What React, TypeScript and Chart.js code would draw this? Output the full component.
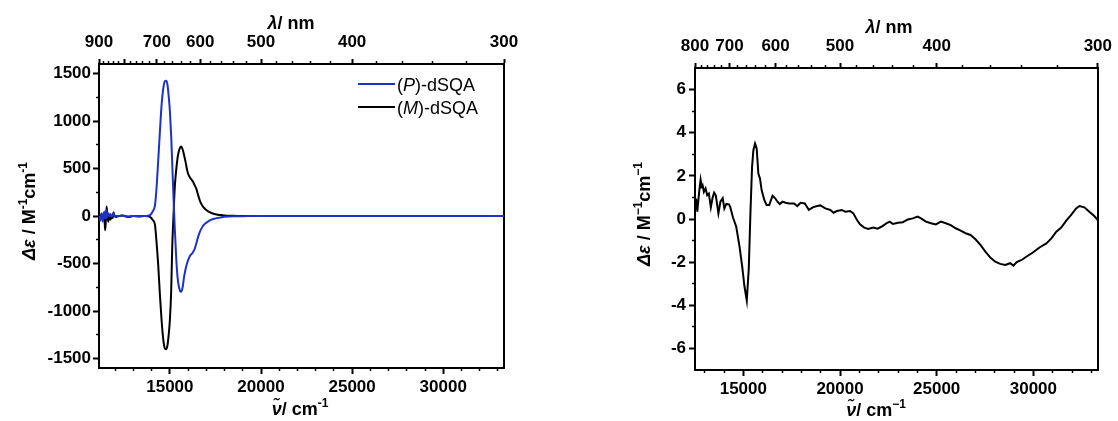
import React, { useEffect, useRef } from "react";
import { Chart, registerables } from "chart.js";

Chart.register(...registerables);

const FONT = "'Liberation Sans', Arial, sans-serif";
const BLUE = "#1c32c8";

// ---------- Left panel: CD spectra of (P)- and (M)-dSQA ----------
const leftWavenumbers = [
  11111, 11180, 11250, 11320, 11380, 11420, 11450, 11490, 11530, 11570,
  11620, 11680, 11740, 11800, 11860, 11910, 11960, 12050, 12200, 12400,
  12700, 13000, 13300, 13600, 13800, 13950, 14050, 14180, 14270, 14360,
  14450, 14550, 14650, 14730, 14800, 14870, 14940, 15000, 15070, 15130,
  15200, 15270, 15350, 15420, 15490, 15560, 15620, 15700, 15780, 15860,
  15940, 16000, 16100, 16220, 16300, 16370, 16450, 16550, 16640, 16730,
  16850, 17000, 17100, 17280, 17450, 17640, 17830, 18000, 18200, 18500,
  19000, 20000, 22000, 25000, 28000, 31000, 33333,
];
const pValues = [
  0, -50, 30, -60, 40, -20, 50, -30, 60, -10,
  30, 0, 20, -5, 10, 30, 5, 0, 0, 5,
  -5, 0, 0, 0, 2, 15, 45, 110, 300, 585,
  880, 1180, 1360, 1420, 1425, 1380, 1250, 1108, 850, 550,
  190, -130, -450, -640, -740, -790, -798, -750, -640, -560,
  -500, -465, -420, -395, -370, -342, -290, -220, -170, -133,
  -95, -70, -58, -38, -28, -20, -12, -8, -5, -3,
  -2, 0, 0, 0, 0, 0, 0,
];
const mValues = [
  0, -40, 20, -30, 30, -60, -150, -40, 100, 0,
  -60, 10, -40, -10, -20, 40, 0, -10, 0, 5,
  -10, 0, -5, 0, -2, -15, -40, -90, -280, -515,
  -820, -1110, -1320, -1395, -1403, -1360, -1240, -1095, -800, -325,
  10, 305, 490, 610, 680, 720, 732, 700, 640, 570,
  490, 445, 405, 375, 350, 320, 288, 220, 165, 125,
  90, 62, 48, 32, 22, 14, 10, 6, 3, 2,
  0, 0, 0, 0, 0, 0, 0,
];
const leftSeriesLabels = ["(P)-dSQA", "(M)-dSQA"];

// ---------- Right panel ----------
const rightWavenumbers = [
  12500, 12560, 12620, 12671, 12720, 12790, 12840, 12893, 12960, 13046,
  13131, 13217, 13319, 13404, 13490, 13575, 13711, 13814, 13933, 14018,
  14121, 14257, 14325, 14462, 14633, 14803, 14940, 15059, 15178, 15281,
  15366, 15451, 15519, 15605, 15690, 15776, 15861, 15946, 16083, 16202,
  16339, 16510, 16646, 16766, 16885, 17022, 17193, 17363, 17619, 17790,
  17961, 18183, 18387, 18592, 18814, 18985, 19241, 19497, 19667, 19838,
  20094, 20265, 20521, 20691, 20862, 21033, 21255, 21460, 21716, 21937,
  22142, 22398, 22569, 22739, 22995, 23251, 23507, 23763, 24019, 24190,
  24446, 24702, 24958, 25214, 25470, 25726, 25982, 26238, 26494, 26750,
  27006, 27262, 27518, 27774, 28030, 28286, 28542, 28798, 28969, 29139,
  29395, 29651, 29993, 30334, 30675, 30931, 31187, 31443, 31699, 31955,
  32211, 32382, 32638, 32894, 33150, 33333,
];
const rightValues = [
  0.96, 0.9, 0.34, 0.85, 1.3, 1.81, 1.5, 1.57, 1.26, 1.42,
  1.1, 1.18, 0.54, 0.96, 1.22, 1.1, 0.26, 0.8, 0.96, 0.49,
  0.7, 0.68, 0.55, 0.08, -0.36, -1.28, -2.2, -3.13, -3.78, -2.3,
  0.26, 2.42, 3.19, 3.5, 3.27, 2.11, 1.88, 1.34, 0.88, 0.65,
  0.65, 1.08, 0.96, 0.8, 0.69, 0.8, 0.75, 0.72, 0.72, 0.6,
  0.75, 0.72, 0.42, 0.54, 0.6, 0.63, 0.49, 0.42, 0.29, 0.37,
  0.42, 0.34, 0.37, 0.26, -0.02, -0.25, -0.4, -0.46, -0.4, -0.45,
  -0.36, -0.2, -0.12, -0.23, -0.17, -0.15, -0.02, 0.03, 0.11, 0.03,
  -0.12, -0.2, -0.25, -0.12, -0.2, -0.28, -0.43, -0.54, -0.66, -0.74,
  -0.94, -1.2, -1.51, -1.79, -1.98, -2.08, -2.13, -2.05, -2.16, -2.0,
  -1.9, -1.74, -1.54, -1.31, -1.13, -0.9, -0.59, -0.4, -0.08, 0.19,
  0.49, 0.6, 0.54, 0.34, 0.14, -0.05,
];

// ---------- Tick specifications ----------
const leftNmMajor = [900, 800, 700, 600, 500, 400, 300];
const leftNmLabels = [900, 700, 600, 500, 400, 300];
const leftNmMinor = [880, 860, 840, 820, 780, 760, 740, 720, 680, 660, 640, 620, 580, 560, 540, 520, 480, 460, 440, 420, 380, 360, 340, 320];
const rightNmMajor = [800, 700, 600, 500, 400, 300];
const rightNmLabels = [800, 700, 600, 500, 400, 300];
const rightNmMinor = [780, 760, 740, 720, 680, 660, 640, 620, 580, 560, 540, 520, 480, 460, 440, 420, 380, 360, 340, 320];
const wavenumberMajor = [15000, 20000, 25000, 30000];
const leftWavenumberMinor = [12000, 13000, 14000, 16000, 17000, 18000, 19000, 21000, 22000, 23000, 24000, 26000, 27000, 28000, 29000, 31000, 32000, 33000];
const rightWavenumberMinor = [13000, 14000, 16000, 17000, 18000, 19000, 21000, 22000, 23000, 24000, 26000, 27000, 28000, 29000, 31000, 32000, 33000];
const leftYMajor = [-1500, -1000, -500, 0, 500, 1000, 1500];
const leftYMinor = [-1250, -750, -250, 250, 750, 1250];
const rightYMajor = [-6, -4, -2, 0, 2, 4, 6];
const rightYMinor = [-5, -3, -1, 1, 3, 5];

type Seg = { t: string; italic?: boolean; sup?: boolean };

function drawRich(
  ctx: CanvasRenderingContext2D,
  segs: Seg[],
  x: number,
  y: number,
  size: number,
  weight: string,
  rotate: boolean
) {
  const supSize = Math.round(size * 0.68);
  const fontOf = (s: Seg) =>
    `${s.italic ? "italic " : ""}${weight} ${s.sup ? supSize : size}px ${FONT}`;
  let total = 0;
  const widths = segs.map((s) => {
    ctx.font = fontOf(s);
    const w = ctx.measureText(s.t).width;
    total += w;
    return w;
  });
  ctx.save();
  ctx.translate(x, y);
  if (rotate) ctx.rotate(-Math.PI / 2);
  ctx.fillStyle = "#000";
  ctx.textBaseline = "alphabetic";
  ctx.textAlign = "left";
  let cx = -total / 2;
  segs.forEach((s, i) => {
    ctx.font = fontOf(s);
    ctx.fillText(s.t, cx, s.sup ? -size * 0.42 : 0);
    cx += widths[i];
  });
  ctx.restore();
}

function labelSegs(label: string): Seg[] {
  const m = label.match(/^\((\w)\)(.*)$/);
  if (!m) return [{ t: label }];
  return [{ t: "(" }, { t: m[1], italic: true }, { t: ")" + m[2] }];
}

interface Panel {
  xMin: number;
  xMax: number;
  yMin: number;
  yMax: number;
  nmMajor: number[];
  nmLabels: number[];
  nmMinor: number[];
  xMinor: number[];
  yMajor: number[];
  yMinor: number[];
  leftW: number;
  rightPad: number;
  topH: number;
  bottomH: number;
  yTickPad: number;
}

function buildScales(p: Panel): any {
  const tickFont = { family: FONT, size: 17, weight: "bold" as const };
  const setTicks = (vals: number[]) => (s: any) => {
    s.ticks = vals.map((v) => ({ value: v }));
  };
  const minorGrid = { display: true, drawOnChartArea: false, drawTicks: true, tickLength: 3, tickWidth: 1.5, tickColor: "#000" };
  const majorGrid = { display: true, drawOnChartArea: false, drawTicks: true, tickLength: 6, tickWidth: 2, tickColor: "#000" };
  const border = { display: true, color: "#000", width: 2 };
  return {
    x: {
      type: "linear", position: "bottom", weight: 2, min: p.xMin, max: p.xMax, display: true,
      afterBuildTicks: setTicks(wavenumberMajor),
      afterFit: (s: any) => { s.height = p.bottomH; },
      ticks: { font: tickFont, color: "#000", padding: 3, autoSkip: false, maxRotation: 0, minRotation: 0, callback: (v: any) => String(v) },
      grid: majorGrid, border,
    },
    xMinor: {
      type: "linear", position: "bottom", weight: 1, min: p.xMin, max: p.xMax, display: true,
      afterBuildTicks: setTicks(p.xMinor),
      afterFit: (s: any) => { s.height = 0; },
      ticks: { display: false }, grid: minorGrid, border: { display: false },
    },
    xTop: {
      type: "linear", position: "top", weight: 2, min: p.xMin, max: p.xMax, display: true,
      afterBuildTicks: setTicks(p.nmMajor.map((nm) => 1e7 / nm)),
      afterFit: (s: any) => { s.height = p.topH; },
      ticks: {
        font: tickFont, color: "#000", padding: 6, autoSkip: false, maxRotation: 0, minRotation: 0,
        callback: (v: any) => {
          const nm = Math.round(1e7 / Number(v));
          return p.nmLabels.includes(nm) ? String(nm) : "";
        },
      },
      grid: { ...majorGrid, tickLength: 5 }, border,
    },
    xTopMinor: {
      type: "linear", position: "top", weight: 1, min: p.xMin, max: p.xMax, display: true,
      afterBuildTicks: setTicks(p.nmMinor.map((nm) => 1e7 / nm)),
      afterFit: (s: any) => { s.height = 0; },
      ticks: { display: false }, grid: minorGrid, border: { display: false },
    },
    y: {
      type: "linear", position: "left", weight: 2, min: p.yMin, max: p.yMax, display: true,
      afterBuildTicks: setTicks(p.yMajor),
      afterFit: (s: any) => { s.width = p.leftW; },
      ticks: { font: tickFont, color: "#000", padding: p.yTickPad, autoSkip: false, callback: (v: any) => String(v) },
      grid: majorGrid, border,
    },
    yMinor: {
      type: "linear", position: "left", weight: 1, min: p.yMin, max: p.yMax, display: true,
      afterBuildTicks: setTicks(p.yMinor),
      afterFit: (s: any) => { s.width = 0; },
      ticks: { display: false }, grid: minorGrid, border: { display: false },
    },
    yRight: {
      type: "linear", position: "right", weight: 1, min: p.yMin, max: p.yMax, display: true,
      afterFit: (s: any) => { s.width = 0; },
      ticks: { display: false }, grid: { display: false }, border,
    },
  };
}

function decorPlugin(draw: (ctx: CanvasRenderingContext2D) => void) {
  return {
    id: "decor",
    afterDraw(chart: any) {
      draw(chart.ctx);
    },
  };
}

export default function App() {
  const leftRef = useRef<HTMLCanvasElement | null>(null);
  const rightRef = useRef<HTMLCanvasElement | null>(null);

  useEffect(() => {
    if (!leftRef.current || !rightRef.current) return;

    const leftPanel: Panel = {
      xMin: 1e7 / 900, xMax: 1e7 / 300, yMin: -1600, yMax: 1600,
      nmMajor: leftNmMajor, nmLabels: leftNmLabels, nmMinor: leftNmMinor,
      xMinor: leftWavenumberMinor, yMajor: leftYMajor, yMinor: leftYMinor,
      leftW: 99, rightPad: 55, topH: 64, bottomH: 53, yTickPad: 2,
    };
    const rightPanel: Panel = {
      xMin: 1e7 / 800, xMax: 1e7 / 300, yMin: -7, yMax: 7,
      nmMajor: rightNmMajor, nmLabels: rightNmLabels, nmMinor: rightNmMinor,
      xMinor: rightWavenumberMinor, yMajor: rightYMajor, yMinor: rightYMinor,
      leftW: 136, rightPad: 16, topH: 68, bottomH: 51, yTickPad: 3,
    };

    const leftColors = [BLUE, "#000000"];
    const leftSeries = [pValues, mValues];

    const left = new Chart(leftRef.current, {
      type: "line",
      data: {
        datasets: leftSeries.map((vals, k) => ({
          label: leftSeriesLabels[k],
          data: leftWavenumbers.map((x, i) => ({ x, y: vals[i] })),
          borderColor: leftColors[k],
          borderWidth: 2,
          pointRadius: 0,
          cubicInterpolationMode: "monotone" as const,
          xAxisID: "x",
          yAxisID: "y",
        })),
      },
      options: {
        animation: false,
        responsive: false,
        events: [],
        layout: { padding: { left: 0, right: leftPanel.rightPad, top: 0, bottom: 0 } },
        plugins: { legend: { display: false }, tooltip: { enabled: false } },
        scales: buildScales(leftPanel),
      },
      plugins: [
        decorPlugin((ctx) => {
          drawRich(ctx, [{ t: "λ", italic: true }, { t: "/ nm" }], 291, 29, 18, "bold", false);
          drawRich(ctx, [{ t: "ν\u0303", italic: true }, { t: "/ cm" }, { t: "-1", sup: true }], 300, 415, 18, "bold", false);
          drawRich(ctx, [{ t: "Δε", italic: true }, { t: " / M" }, { t: "-1", sup: true }, { t: "cm" }, { t: "-1", sup: true }], 35, 211, 18, "bold", true);
          leftSeriesLabels.forEach((lab, k) => {
            const y = 84 + k * 23;
            ctx.save();
            ctx.strokeStyle = leftColors[k];
            ctx.lineWidth = 2;
            ctx.beginPath();
            ctx.moveTo(358, y);
            ctx.lineTo(395, y);
            ctx.stroke();
            ctx.restore();
            const segs = labelSegs(lab);
            ctx.save();
            ctx.fillStyle = "#000";
            ctx.textBaseline = "middle";
            let x = 397;
            segs.forEach((s) => {
              ctx.font = `${s.italic ? "italic " : ""}normal 18px ${FONT}`;
              ctx.fillText(s.t, x, y + 2);
              x += ctx.measureText(s.t).width;
            });
            ctx.restore();
          });
        }),
      ],
    } as any);

    const right = new Chart(rightRef.current, {
      type: "line",
      data: {
        datasets: [
          {
            label: "Δε",
            data: rightWavenumbers.map((x, i) => ({ x, y: rightValues[i] })),
            borderColor: "#000000",
            borderWidth: 2,
            pointRadius: 0,
            tension: 0,
            xAxisID: "x",
            yAxisID: "y",
          },
        ],
      },
      options: {
        animation: false,
        responsive: false,
        events: [],
        layout: { padding: { left: 0, right: rightPanel.rightPad, top: 0, bottom: 0 } },
        plugins: { legend: { display: false }, tooltip: { enabled: false } },
        scales: buildScales(rightPanel),
      },
      plugins: [
        decorPlugin((ctx) => {
          drawRich(ctx, [{ t: "λ", italic: true }, { t: "/ nm" }], 330, 33, 18, "bold", false);
          drawRich(ctx, [{ t: "ν\u0303", italic: true }, { t: "/ cm" }, { t: "\u22121", sup: true }], 317, 416, 18, "bold", false);
          drawRich(ctx, [{ t: "Δε", italic: true }, { t: " / M" }, { t: "\u22121", sup: true }, { t: "cm" }, { t: "\u22121", sup: true }], 91, 214, 18, "bold", true);
        }),
      ],
    } as any);

    return () => {
      left.destroy();
      right.destroy();
    };
  }, []);

  return (
    <div style={{ position: "fixed", left: 0, top: 0, width: 1118, height: 421, background: "#fff" }}>
      <canvas ref={leftRef} width={559} height={421} style={{ position: "absolute", left: 0, top: 0, width: 559, height: 421 }} />
      <canvas ref={rightRef} width={559} height={421} style={{ position: "absolute", left: 559, top: 0, width: 559, height: 421 }} />
    </div>
  );
}
